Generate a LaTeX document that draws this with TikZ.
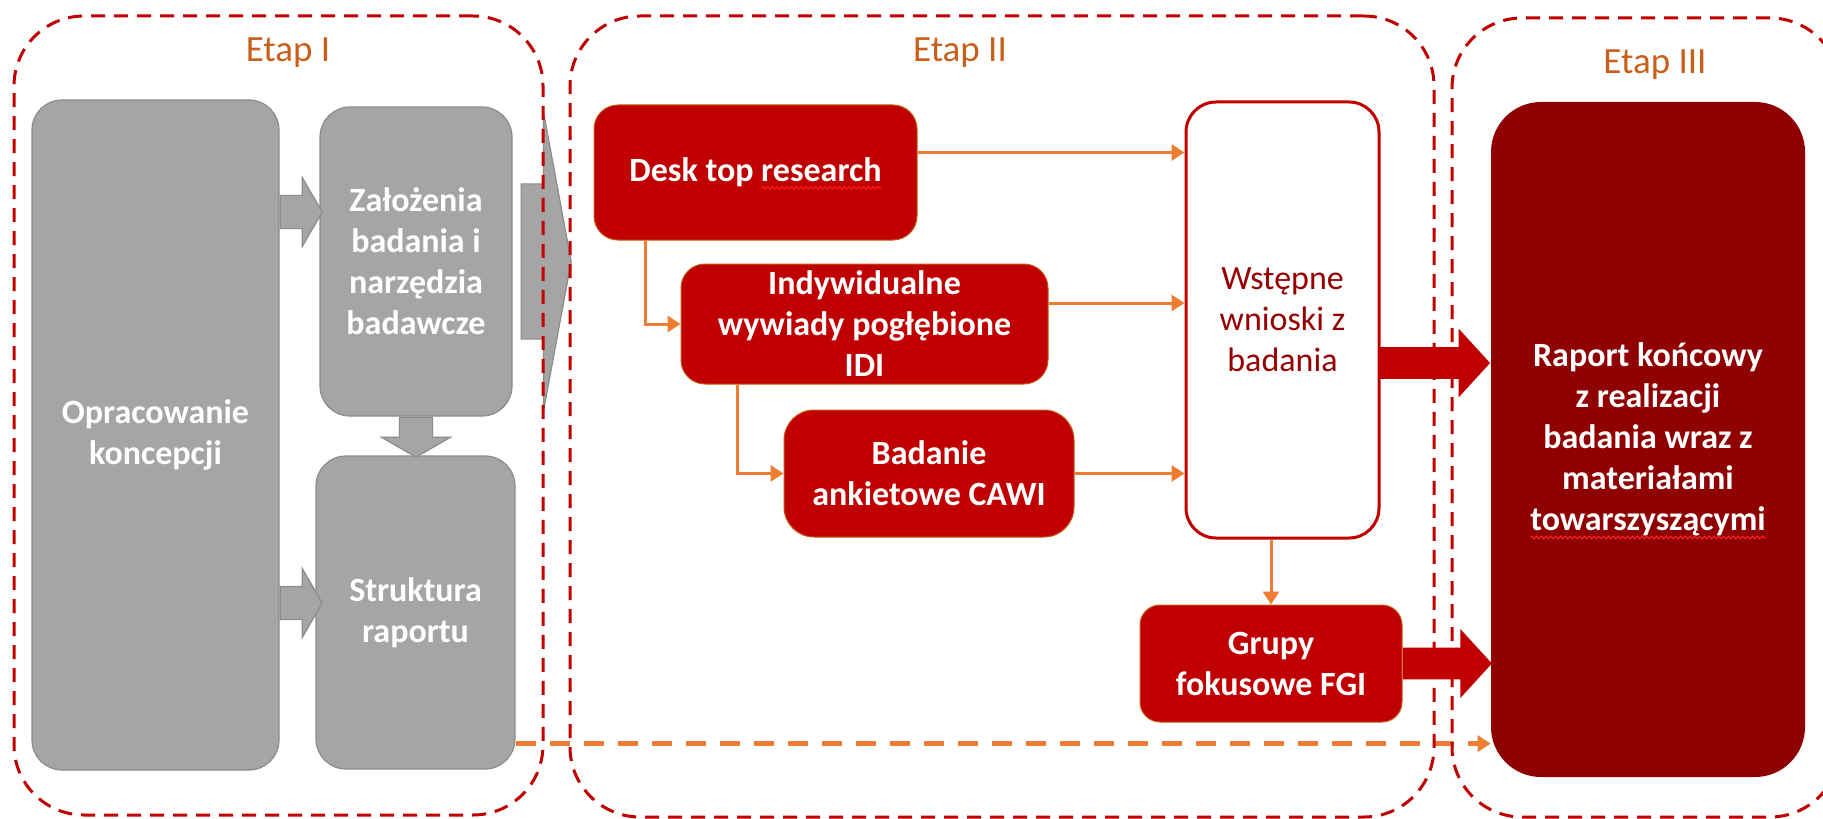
\documentclass[tikz,border=0pt]{standalone}
\usepackage{fontspec}
\setmainfont{Carlito}
\usetikzlibrary{arrows.meta, shapes.arrows, calc, decorations.pathmorphing}
\definecolor{boxgray}{HTML}{A5A5A5}
\definecolor{edgegray}{HTML}{8C8C8C}
\definecolor{boxred}{HTML}{C00000}
\definecolor{darkred}{HTML}{8F0000}
\definecolor{wsttxt}{HTML}{960000}
\definecolor{flow}{HTML}{ED7D31}
\definecolor{stagetxt}{HTML}{C8601C}
\definecolor{edgebrown}{HTML}{C55A11}
\definecolor{wavered}{HTML}{FF2020}

\newlength{\deskw}
\newlength{\researchw}
\newlength{\towarw}
\newcommand{\boxfont}{\fontsize{17}{20.5}\selectfont\bfseries}

\begin{document}
% widths for the wavy underlines
\settowidth{\deskw}{\boxfont Desk top research}
\settowidth{\researchw}{\boxfont research}
\settowidth{\towarw}{\boxfont towarszyszącymi}
\begin{tikzpicture}[
    x=0.5pt, y=-0.5pt,
    txt/.style={font=\boxfont, text=white, align=center},
    graybox/.style={txt, draw=edgegray, line width=0.6pt, fill=boxgray, rounded corners=15pt, inner sep=0pt},
    redbox/.style={txt, draw=edgebrown, line width=0.5pt, fill=boxred, rounded corners=#1, inner sep=0pt},
    stage/.style={draw=boxred, dash pattern=on 7pt off 4.5pt, line width=1.5pt, rounded corners=35pt, inner sep=0pt},
    stagetitle/.style={font=\fontsize{18.5}{22}\selectfont, text=stagetxt, anchor=base},
    flowarr/.style={-{Triangle[length=6.5pt, width=8pt]}, flow, line width=1.5pt},
    grayarr/.style={single arrow, draw=edgegray, line width=0.6pt, fill=boxgray, inner xsep=0pt, inner ysep=8pt,
        single arrow head extend=9pt, single arrow tip angle=120},
    redarr/.style={single arrow, fill=boxred, inner xsep=0pt, inner ysep=7.75pt,
        single arrow head extend=9.25pt, single arrow tip angle=95},
    spellwave/.style={draw=wavered, line width=0.5pt, decorate, decoration={snake, amplitude=0.7pt, segment length=2.4pt}},
]
\useasboundingbox (0,0) rectangle (1823,818);

% Etap I
\node[graybox, minimum width=123.5pt, minimum height=335pt] (opr) at (155.5,435) {Opracowanie\\koncepcji};
\node[graybox, minimum width=96pt, minimum height=154.5pt] (zal) at (416,261.5) {Założenia\\badania i\\narzędzia\\badawcze};
\node[graybox, minimum width=99.5pt, minimum height=156.5pt] (str) at (415.5,612.5) {Struktura\\raportu};

\node[grayarr, minimum height=21pt, anchor=tail] (a1) at (opr.east |- 0,212) {};
\node[grayarr, minimum height=21pt, anchor=tail] (a2) at (opr.east |- 0,603) {};
\node[grayarr, minimum height=20pt, rotate=-90, anchor=tail] (a3) at (zal.south) {};
\node[grayarr, minimum height=25pt, inner ysep=38.5pt, single arrow head extend=35.75pt,
    single arrow tip angle=159, anchor=tail] (a4) at ([xshift=4pt]zal.east) {};

% Etap II
\node[redbox=12pt, minimum width=161.5pt, minimum height=67.5pt] (desk) at (755.5,172.5) {Desk top research};
\node[redbox=12pt, minimum width=183.5pt, minimum height=60pt] (idi) at (864.5,324) {Indywidualne\\wywiady pogłębione\\IDI};
\node[redbox=15pt, minimum width=145pt, minimum height=63.5pt] (cawi) at (929,473.5) {Badanie\\ankietowe CAWI};
\node[draw=boxred, line width=1.5pt, fill=white, rounded corners=15pt, minimum width=96.5pt, minimum height=218pt,
    inner sep=0pt, font=\fontsize{17}{20.5}\selectfont, text=wsttxt, align=center] (wst) at (1282.5,320) {Wstępne\\wnioski z\\badania};
\node[redbox=10pt, minimum width=131pt, minimum height=58.5pt] (fgi) at (1271,663.5) {Grupy\\fokusowe FGI};

\draw[flowarr] ([yshift=10pt]desk.east) -- ([yshift=10pt]desk.east -| wst.west);
\draw[flowarr] ([yshift=10.5pt]idi.east) -- ([yshift=10.5pt]idi.east -| wst.west);
\draw[flowarr] (cawi.east) -- (cawi.east -| wst.west);
\draw[flowarr] ([xshift=26pt]desk.south west) |- (idi.west);
\draw[flowarr] ([xshift=28.5pt]idi.south west) |- (cawi.west);
\draw[flowarr] (fgi.north |- wst.south) -- (fgi.north);

% Etap III
\node[txt, fill=darkred, rounded corners=25pt, minimum width=157pt, minimum height=337.5pt, inner sep=0pt] (rap) at (1648,439.5)
    {Raport końcowy\\z realizacji\\badania wraz z\\materiałami\\towarszyszącymi};

\node[redarr, minimum height=56pt, anchor=tip] (a5) at (rap.west |- 0,363) {};
\node[redarr, minimum height=44.5pt, anchor=tail] (a6) at (fgi.east) {};
\draw[flowarr, line width=2.4pt, dash pattern=on 10pt off 7pt] ([yshift=13pt]str.south east) -- ([yshift=13pt]str.south east -| rap.west);

% spell-check waves
\draw[spellwave] ([xshift=0.5\deskw-\researchw, yshift=-3pt]desk.base) -- ([xshift=0.5\deskw, yshift=-3pt]desk.base);
\draw[spellwave] ([xshift=-0.5\towarw, yshift=-49pt]rap.center) -- ([xshift=0.5\towarw, yshift=-49pt]rap.center);

% dashed stage frames on top
\node[stage, minimum width=264.5pt, minimum height=399.5pt] (etap1) at (278.5,415.5) {};
\node[stage, minimum width=432pt, minimum height=400.5pt] (etap2) at (1002,416.5) {};
\node[stage, minimum width=194pt, minimum height=399.5pt] (etap3) at (1646,417.5) {};

\node[stagetitle] (t1) at (288,62) {Etap I};
\node[stagetitle] (t2) at (960,62) {Etap II};
\node[stagetitle] (t3) at (1655,74) {Etap III};

\end{tikzpicture}
\end{document}
